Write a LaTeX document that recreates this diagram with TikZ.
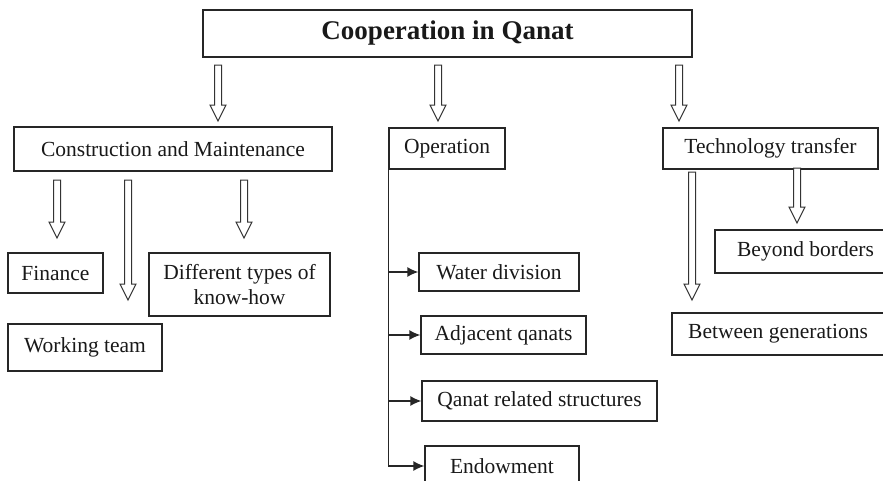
\documentclass[tikz,border=0pt]{standalone}
\usepackage{fontspec}
\setmainfont{Liberation Serif}
\usetikzlibrary{arrows.meta}
\begin{document}
\begin{tikzpicture}[x=1pt,y=-1pt,
  box/.style={draw=black!85, line width=1.3pt, inner sep=0pt, align=center,
    font=\fontsize{21.5}{25}\selectfont, text=black!90},
  titlebox/.style={draw=black!85, line width=2.6pt, inner sep=0pt,
    font=\fontsize{27}{31}\selectfont\bfseries, text=black!90},
  harrow/.style={draw=black!80, line width=1pt, fill=white, line join=miter},
  branch/.style={draw=black!85, line width=1.4pt, -{Latex[length=11pt,width=10pt]}}
]
\newcommand{\blockarrow}[3]{%
  \draw[harrow] ({#1-3.5},#2) -- ({#1-3.5},{#3-16}) -- ({#1-8},{#3-16}) -- (#1,#3)
    -- ({#1+8},{#3-16}) -- ({#1+3.5},{#3-16}) -- ({#1+3.5},#2) -- cycle;}
\useasboundingbox (0,0) rectangle (883,480);
\begin{scope}
\clip (0,0) rectangle (883,480);
\fill[white] (0,0) rectangle (883,480);

\node[titlebox, minimum width=489pt, minimum height=47pt] (title) at (447.5,33.5) {Cooperation in Qanat};

\node[box, minimum width=318pt, minimum height=44pt] (cm) at (173,149) {Construction and Maintenance};
\node[box, minimum width=116pt, minimum height=41pt] (op) at (447,148.5) {Operation};
\node[box, minimum width=215pt, minimum height=41pt] (tt) at (770.5,148.5) {Technology transfer};

\node[box, minimum width=95pt, minimum height=40pt] (fin) at (55.5,273) {Finance};
\node[box, minimum width=181pt, minimum height=63pt] (know) at (239.5,284.5) {Different types of\\know-how};
\node[box, minimum width=154pt, minimum height=47pt] (work) at (85,347.5) {Working team};

\node[box, minimum width=160pt, minimum height=38pt] (wd) at (499,272) {Water division};
\node[box, minimum width=165pt, minimum height=38pt] (adj) at (503.5,335) {Adjacent qanats};
\node[box, minimum width=235pt, minimum height=40pt] (qrs) at (539.5,401) {Qanat related structures};
\node[box, minimum width=154pt, minimum height=40pt] (endw) at (502,466) {Endowment};

\node[box, minimum width=181pt, minimum height=43pt] (bb) at (805.5,251.5) {Beyond borders};
\node[box, minimum width=212pt, minimum height=42pt] (bg) at (778,334) {Between generations};

% hollow block arrows
\blockarrow{218}{65}{121}
\blockarrow{438}{65}{121}
\blockarrow{679}{65}{121}
\blockarrow{57}{180}{238}
\blockarrow{128}{180}{300}
\blockarrow{244}{180}{238}
\blockarrow{692}{172}{300}
\blockarrow{797}{168}{223}

% operation trunk and branches
\coordinate (trunkend) at (op.south west |- endw.west);
\draw[draw=black!85, line width=1.4pt] (op.south west) -- (trunkend);
\draw[branch] (op.south west |- wd.west) -- (wd.west);
\draw[branch] (op.south west |- adj.west) -- (adj.west);
\draw[branch] (op.south west |- qrs.west) -- (qrs.west);
\draw[branch] (trunkend) -- (endw.west);
\end{scope}
\end{tikzpicture}
\end{document}
